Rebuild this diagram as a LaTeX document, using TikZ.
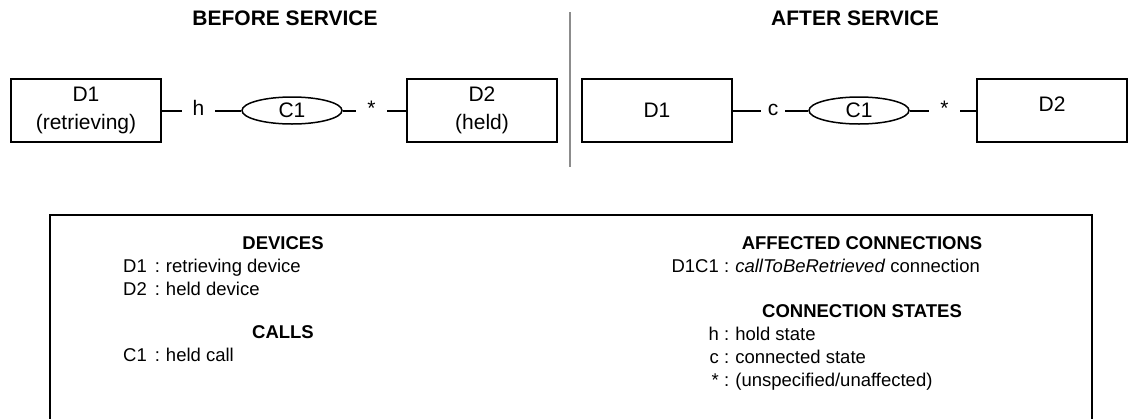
\documentclass[tikz,border=0pt]{standalone}
\usepackage{fontspec}
\setmainfont{Liberation Sans}
\usetikzlibrary{shapes.geometric, positioning}

\definecolor{divgray}{gray}{0.55}

\begin{document}
\begin{tikzpicture}[
x=1pt, y=-1pt,
    device/.style={rectangle, draw, line width=2pt, minimum width=150pt, minimum height=63pt, align=center, inner sep=0pt, font=\fontsize{21}{28}\selectfont},
    call/.style={ellipse, draw, line width=1.5pt, minimum width=100pt, minimum height=27pt, inner sep=0pt, font=\fontsize{21}{25}\selectfont},
    state/.style={anchor=base, inner sep=0pt, font=\fontsize{21}{25}\selectfont},
    title/.style={anchor=base, font=\fontsize{21}{25}\selectfont\bfseries},
    head/.style={anchor=base, font=\fontsize{18.5}{22}\selectfont\bfseries},
    key/.style={anchor=base east, inner sep=0pt, font=\fontsize{18.5}{22}\selectfont},
    entry/.style={anchor=base west, inner sep=0pt, font=\fontsize{18.5}{22}\selectfont},
    line/.style={draw, line width=2pt}
]
    \useasboundingbox (0,0) rectangle (1129,418);
    \clip (0,0) rectangle (1129,418);

    % Titles
    \node[title] (before) at (285,25.5) {BEFORE SERVICE};
    \node[title] (after) at (855,25.5) {AFTER SERVICE};
    \draw[divgray, line width=2pt] (569.5,12) -- (569.5,167);

    % Before service
    \node[device] (bd1) at (86,110.5) {D1\\(retrieving)};
    \node[call] (bc1) at (292,110.5) {C1};
    \node[device] (bd2) at (482,110.5) {D2\\(held)};
    \node[state, minimum width=33pt] (bh) at (198.5,115) {h};
    \node[state, minimum width=31pt] (bs) at (371.5,115) {*};

    \draw[line] (bd1) -- (bh.west |- bd1);
    \draw[line] (bh.east |- bd1) -- (bc1);
    \draw[line] (bc1) -- (bs.west |- bc1);
    \draw[line] (bs.east |- bc1) -- (bd2);

    % After service
    \node[device] (ad1) at (657,110.5) {D1};
    \node[call] (ac1) at (859,110.5) {C1};
    \node[device, text depth=12pt] (ad2) at (1052,110.5) {D2};
    \node[state, minimum width=24pt] (ac) at (773,115) {c};
    \node[state, minimum width=31pt] (as) at (944.5,115) {*};

    \draw[line] (ad1) -- (ac.west |- ad1);
    \draw[line] (ac.east |- ad1) -- (ac1);
    \draw[line] (ac1) -- (as.west |- ac1);
    \draw[line] (as.east |- ac1) -- (ad2);

    % Legend
    \draw[line] (50,430) -- (50,215) -- (1092,215) -- (1092,430);

    \node[head] (devs) at (283,249) {DEVICES};
    \node[entry] (dev1) at (123,272) {D1\hspace{8pt}:\hspace{6pt}retrieving device};
    \node[entry] (dev2) at (123,295) {D2\hspace{8pt}:\hspace{6pt}held device};
    \node[head] (calls) at (283,338) {CALLS};
    \node[entry] (call1) at (123,361) {C1\hspace{8pt}:\hspace{6pt}held call};

    \node[head] (affconn) at (862,249) {AFFECTED CONNECTIONS};
    \node[key] (d1c1) at (719,272) {D1C1};
    \node[entry] (d1c1txt) at (724,272) {:\hspace{6pt}\textit{callToBeRetrieved} connection};
    \node[head] (connst) at (862,317) {CONNECTION STATES};
    \node[key] (sth) at (719,340) {h};
    \node[entry] (sthtxt) at (724,340) {:\hspace{6pt}hold state};
    \node[key] (stc) at (719,363) {c};
    \node[entry] (stctxt) at (724,363) {:\hspace{6pt}connected state};
    \node[key] (sts) at (719,386) {*};
    \node[entry] (ststxt) at (724,386) {:\hspace{6pt}(unspecified/unaffected)};

\end{tikzpicture}
\end{document}
